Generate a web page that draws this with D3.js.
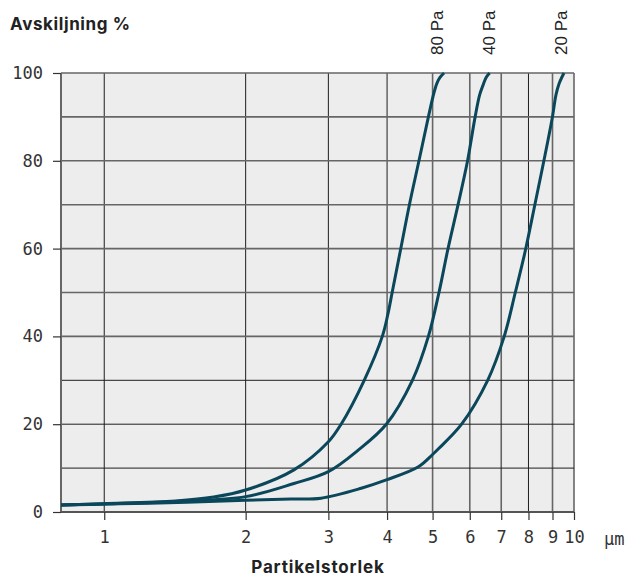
<!DOCTYPE html>
<html><head><meta charset="utf-8">
<script src="https://cdn.jsdelivr.net/npm/d3@7"></script>
<style>
html,body{margin:0;padding:0;background:#fff;}
svg{display:block;}
</style></head>
<body>
<script>
// ---- data ----
const xTicks = [1,2,3,4,5,6,7,8,9,10];
const yTicks = [0,20,40,60,80,100];
const yGrid = [10,20,30,40,50,60,70,80,90,100];
const seriesNames = ["80 Pa","40 Pa","20 Pa"];
const pa80 = [[0.809,1.6],[1,1.9],[1.418,2.5],[1.71,3.4],[2.0,5.0],[2.534,9.6],[3.0,16],[3.193,20],[3.576,30],[3.908,40],[4.015,45],[4.101,50],[4.269,59.5],[4.463,70],[4.677,80],[4.898,90],[5.034,95.5],[5.109,97.7],[5.185,99],[5.289,100]];
const pa40 = [[0.809,1.6],[1,1.85],[1.418,2.4],[2.0,3.5],[2.534,6.5],[3.0,9.2],[3.472,14.1],[3.985,20],[4.529,30],[4.898,40],[5.159,50],[5.381,59.5],[5.665,70],[5.935,80],[6.159,90],[6.297,95],[6.406,97.3],[6.501,99],[6.614,100]];
const pa20 = [[0.809,1.6],[1,1.8],[1.5,2.2],[2.0,2.65],[2.497,2.95],[2.894,3.15],[3.524,5.4],[3.985,7.3],[4.665,10.3],[5.0,13.1],[5.146,14.4],[5.764,20],[6.55,30],[7.103,40],[7.499,50],[7.876,59.5],[8.254,70],[8.627,80],[8.997,90],[9.153,95],[9.29,97.5],[9.519,100]];
const seriesData = [pa80, pa40, pa20];

// ---- chart ----
const W = 628, H = 575;
const svg = d3.select("body").append("svg").attr("width", W).attr("height", H);
const x = d3.scaleLog().domain([0.809, 10]).range([61, 574]);
const y = d3.scaleLinear().domain([0, 100]).range([512, 73]);
const mono = "'DejaVu Sans Mono', monospace";
const sans = "Inter, 'Liberation Sans', Arial, sans-serif";

// plot background
svg.append("rect").attr("x", x.range()[0]).attr("y", y(100))
  .attr("width", x.range()[1]-x.range()[0]).attr("height", y(0)-y(100))
  .attr("fill", "#ededed");

const darkV = new Set([1,2,3,4,8]);
const darkH = new Set([10,20,30]);
// vertical grid
svg.append("g").selectAll("line").data(xTicks).join("line")
  .attr("x1", d => x(d)).attr("x2", d => x(d))
  .attr("y1", y(100)).attr("y2", y(0))
  .attr("stroke", d => darkV.has(d) ? "#1e1e1e" : "#666")
  .attr("stroke-width", d => darkV.has(d) ? 1 : 1.6);
// horizontal grid
svg.append("g").selectAll("line").data(yGrid).join("line")
  .attr("x1", x.range()[0]).attr("x2", x.range()[1])
  .attr("y1", d => y(d)).attr("y2", d => y(d))
  .attr("stroke", d => darkH.has(d) ? "#1e1e1e" : "#666")
  .attr("stroke-width", d => darkH.has(d) ? 1 : 1.6);
// left and bottom borders
svg.append("line").attr("x1", 61).attr("x2", 61).attr("y1", y(100)).attr("y2", y(0))
  .attr("stroke", "#666").attr("stroke-width", 2);
svg.append("line").attr("x1", 61).attr("x2", 574).attr("y1", y(0)).attr("y2", y(0))
  .attr("stroke", "#555").attr("stroke-width", 1.8);

// y axis
const yAxis = d3.axisLeft(y).tickValues(yTicks).tickSize(8).tickPadding(10).tickFormat(d3.format("d"));
const gy = svg.append("g").attr("transform", "translate(61,0)").call(yAxis);
gy.select(".domain").remove();
gy.selectAll(".tick line").attr("stroke", "#333").attr("stroke-width", 1.2);
gy.selectAll(".tick text").attr("font-family", mono).attr("font-size", 17).attr("fill", "#333");

// x axis
const xAxis = d3.axisBottom(x).tickValues(xTicks).tickSize(8).tickPadding(11).tickFormat(d3.format("d"));
const gx = svg.append("g").attr("transform", `translate(0,${y(0)})`).call(xAxis);
gx.select(".domain").remove();
gx.selectAll(".tick line").attr("stroke", "#333").attr("stroke-width", 1.2);
gx.selectAll(".tick text").attr("font-family", mono).attr("font-size", 17).attr("fill", "#333");

svg.append("text").attr("x", 604).attr("y", 545).attr("font-family", mono)
  .attr("font-size", 17).attr("fill", "#333").text("μm");

// curves
const line = d3.line().x(d => x(d[0])).y(d => y(d[1])).curve(d3.curveCatmullRom.alpha(0.5));
svg.append("g").selectAll("path").data(seriesData).join("path")
  .attr("d", line).attr("fill", "none").attr("stroke", "#0b475b")
  .attr("stroke-width", 3).attr("stroke-linejoin", "round");

// series labels (rotated)
const labelX = [443, 495, 567];
svg.append("g").selectAll("text").data(seriesNames).join("text")
  .attr("transform", (d,i) => `translate(${labelX[i]},55) rotate(-90)`)
  .attr("font-family", "'Liberation Sans', Arial, sans-serif").attr("font-size", 17)
  .attr("fill", "#222").text(d => d);

// titles
svg.append("text").attr("x", 10).attr("y", 29.5).attr("font-family", sans)
  .attr("font-weight", 700).attr("font-size", 17).attr("letter-spacing", 0.6)
  .attr("fill", "#222").text("Avskiljning %");
svg.append("text").attr("x", 318).attr("y", 572.5).attr("text-anchor", "middle")
  .attr("font-family", sans).attr("font-weight", 700).attr("font-size", 17)
  .attr("letter-spacing", 0.85).attr("fill", "#222").text("Partikelstorlek");
</script>
</body></html>
